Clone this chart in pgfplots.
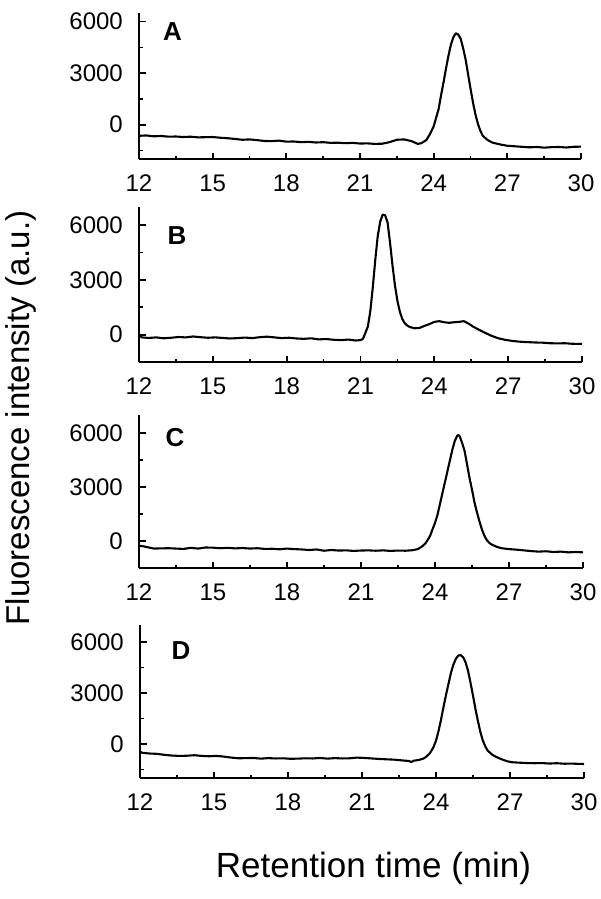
\documentclass[border=0pt]{standalone}
\usepackage{fontspec}
\setmainfont{Liberation Sans}
\usepackage{pgfplots}
\pgfplotsset{compat=1.18}
\pgfplotsset{panel/.style={
  scale only axis, anchor=south west,
  axis lines=left, axis line style={-, line width=2pt, black},
  xmin=12, xmax=30,
  xtick={12,15,18,21,24,27,30}, xticklabels={12,15,18,21,24,27,30},
  minor xtick={13.5,16.5,19.5,22.5,25.5,28.5},
  ytick={0,3000,6000}, yticklabels={0,3000,6000},
  minor ytick={-1500,1500,4500},
  tick align=inside,
  major tick length=6.5pt, minor tick length=3.5pt,
  tick style={line width=1.7pt, black},
  /pgf/number format/assume math mode=true,
  xticklabel style={font=\fontsize{24}{24}\selectfont, inner sep=0pt, anchor=north, yshift=-16pt},
  yticklabel style={font=\fontsize{24}{24}\selectfont, inner sep=0pt, anchor=east, xshift=-16pt},
}}
\tikzset{curve/.style={black, line width=2.1pt, line join=round, mark=none}}
\begin{document}
\begin{tikzpicture}[x=1pt,y=1pt]
\useasboundingbox (0,0) rectangle (600,-899);
% Panel A
\begin{axis}[panel, at={(139pt,-159pt)}, width=442pt, height=146pt, ymin=-2000, ymax=6500]
\addplot[curve] table {
12.0 -650
12.3 -630
12.6 -680
12.9 -660
13.2 -700
13.5 -690
13.8 -720
14.1 -700
14.4 -740
14.7 -730
15.0 -720
15.3 -760
15.6 -790
15.9 -830
16.2 -880
16.5 -860
16.8 -900
17.1 -950
17.4 -960
17.7 -930
18.0 -990
18.3 -980
18.6 -1020
18.9 -1000
19.2 -1040
19.5 -1020
19.8 -1060
20.1 -1050
20.4 -1080
20.7 -1060
21.0 -1100
21.3 -1090
21.6 -1120
21.9 -1110
22.2 -1020
22.5 -880
22.8 -860
23.1 -960
23.35 -1120
23.5 -1080
23.7 -900
23.85 -550
24.0 -100
24.1 400
24.2 900
24.3 1700
24.4 2450
24.5 3250
24.6 4000
24.7 4650
24.8 5080
24.9 5320
25.0 5250
25.1 5000
25.2 4450
25.3 3800
25.4 2950
25.5 2100
25.6 1300
25.7 600
25.8 50
25.9 -350
26.0 -650
26.2 -900
26.4 -1050
26.7 -1150
27.0 -1230
27.3 -1260
27.6 -1290
27.9 -1320
28.2 -1300
28.5 -1340
28.8 -1310
29.1 -1300
29.4 -1330
29.7 -1290
30.0 -1280
};
\end{axis}
% Panel B
\begin{axis}[panel, at={(139pt,-362pt)}, width=443pt, height=155pt, ymin=-1500, ymax=7000]
\addplot[curve] table {
12.0 50
12.1 -150
12.4 -180
12.7 -150
13.0 -200
13.3 -170
13.6 -130
13.9 -150
14.2 -100
14.5 -140
14.8 -170
15.1 -150
15.4 -180
15.7 -210
16.0 -190
16.3 -160
16.6 -190
16.9 -140
17.2 -110
17.5 -150
17.8 -190
18.1 -170
18.4 -210
18.7 -230
19.0 -200
19.3 -260
19.6 -240
19.9 -280
20.2 -300
20.5 -270
20.8 -320
21.0 -300
21.1 -230
21.2 100
21.3 450
21.4 1300
21.5 2600
21.6 4100
21.7 5400
21.8 6200
21.9 6580
22.0 6550
22.1 6150
22.2 5050
22.3 3800
22.4 2700
22.5 1850
22.6 1250
22.7 850
22.8 620
22.9 500
23.0 420
23.2 350
23.4 370
23.6 480
23.8 580
24.0 700
24.2 740
24.4 680
24.6 650
24.8 680
25.0 700
25.2 740
25.4 600
25.6 420
25.8 280
26.0 140
26.3 -50
26.6 -200
26.9 -290
27.2 -350
27.5 -390
27.8 -410
28.1 -430
28.4 -440
28.7 -470
29.0 -480
29.3 -470
29.6 -500
30.0 -510
};
\end{axis}
% Panel C
\begin{axis}[panel, at={(139pt,-568pt)}, width=444pt, height=153pt, ymin=-1500, ymax=7000]
\addplot[curve] table {
12.0 -260
12.2 -300
12.4 -360
12.6 -420
12.9 -410
13.2 -400
13.5 -420
13.8 -440
14.1 -380
14.4 -420
14.7 -360
15.0 -370
15.3 -400
15.6 -380
15.9 -410
16.2 -390
16.5 -420
16.8 -400
17.1 -440
17.4 -430
17.7 -460
18.0 -420
18.3 -450
18.6 -470
18.9 -500
19.2 -470
19.5 -540
19.8 -500
20.1 -530
20.4 -520
20.7 -550
21.0 -530
21.3 -520
21.6 -540
21.9 -520
22.2 -550
22.5 -530
22.8 -540
23.1 -510
23.3 -450
23.45 -330
23.6 -150
23.7 50
23.8 280
23.9 650
24.0 1000
24.1 1450
24.2 2050
24.3 2650
24.4 3250
24.5 3850
24.6 4450
24.7 5050
24.8 5550
24.9 5850
24.95 5890
25.0 5820
25.1 5450
25.2 5000
25.3 4250
25.4 3500
25.5 2850
25.6 2150
25.7 1600
25.8 1100
25.9 650
26.0 300
26.1 50
26.2 -100
26.3 -200
26.5 -320
26.7 -400
27.0 -450
27.3 -480
27.6 -520
27.9 -560
28.2 -590
28.5 -570
28.8 -610
29.1 -590
29.4 -630
29.7 -610
30.0 -630
};
\end{axis}
% Panel D
\begin{axis}[panel, at={(140pt,-778pt)}, width=444pt, height=153pt, ymin=-2000, ymax=7000]
\addplot[curve] table {
12.0 -450
12.1 -520
12.4 -560
12.7 -580
13.0 -640
13.3 -680
13.6 -700
13.9 -690
14.2 -660
14.5 -700
14.8 -720
15.1 -700
15.4 -740
15.7 -800
16.0 -840
16.3 -830
16.6 -820
16.9 -860
17.2 -830
17.5 -850
17.8 -840
18.1 -870
18.4 -860
18.7 -840
19.0 -850
19.3 -820
19.6 -860
19.9 -830
20.2 -850
20.5 -840
20.8 -800
21.1 -820
21.4 -850
21.7 -880
22.0 -900
22.3 -920
22.6 -960
22.9 -1000
23.0 -1060
23.1 -980
23.3 -940
23.5 -850
23.6 -750
23.75 -550
23.9 -180
24.0 200
24.1 750
24.2 1400
24.3 2150
24.4 2850
24.5 3500
24.6 4150
24.7 4650
24.8 5000
24.9 5200
25.0 5230
25.1 5100
25.2 4800
25.3 4300
25.4 3600
25.5 2850
25.6 2050
25.7 1350
25.8 700
25.9 200
26.0 -150
26.1 -400
26.3 -650
26.5 -800
26.7 -920
26.9 -1020
27.1 -1075
27.4 -1100
27.7 -1120
28.0 -1130
28.3 -1120
28.6 -1150
28.9 -1130
29.2 -1160
29.5 -1150
29.8 -1170
30.0 -1175
};
\end{axis}
% panel letters
\node[font=\bfseries\fontsize{26}{26}\selectfont] at (172.5,-32) {A};
\node[font=\bfseries\fontsize{26}{26}\selectfont] at (177,-236) {B};
\node[font=\bfseries\fontsize{26}{26}\selectfont] at (175,-437.5) {C};
\node[font=\bfseries\fontsize{26}{26}\selectfont] at (181,-651) {D};
% axis titles
\node[rotate=90, anchor=base, inner sep=0pt, font=\fontsize{33}{33}\selectfont] at (29,-418) {Fluorescence intensity (a.u.)};
\node[anchor=base, inner sep=0pt, font=\fontsize{35}{35}\selectfont] at (373.5,-877) {Retention time (min)};
\end{tikzpicture}
\end{document}
